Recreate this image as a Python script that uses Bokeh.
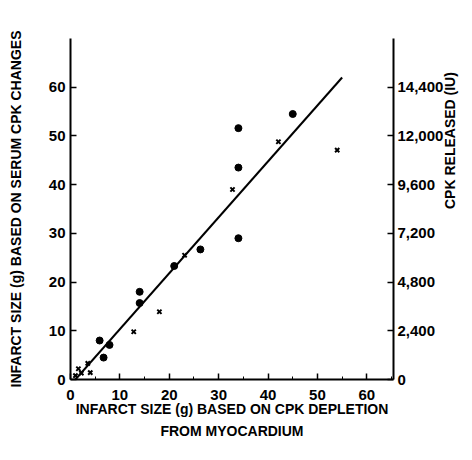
import math
from bokeh.plotting import figure
from bokeh.models import Range1d, LinearAxis, FixedTicker, NumeralTickFormatter
from bokeh.embed import file_html
from bokeh.resources import INLINE

# Infarct size (g) by CPK depletion (x) vs serum CPK changes (y)
dot_x = [45, 34, 34, 34, 26.3, 21, 14, 14, 5.9, 7.9, 6.7]
dot_y = [54.5, 51.6, 43.5, 29, 26.7, 23.3, 18, 15.7, 8, 7.1, 4.5]
cross_x = [54, 42.1, 32.8, 23.1, 18, 12.8, 3.5, 4, 1, 1.6, 2.2]
cross_y = [47.1, 48.8, 39, 25.5, 13.9, 9.8, 3.3, 1.4, 0.8, 2.2, 1.3]
fit_x = [1, 55]
fit_y = [0, 62]

x_ticks = [0, 10, 20, 30, 40, 50, 60]
x_minor = [5, 15, 25, 35, 45, 55, 65]
y_ticks = [0, 10, 20, 30, 40, 50, 60]
cpk_ticks = [0, 2400, 4800, 7200, 9600, 12000, 14400]

FONT = "Liberation Sans"

p = figure(width=470, height=452, x_range=Range1d(0, 65.4), y_range=Range1d(0, 70),
           output_backend="svg", toolbar_location=None,
           min_border_left=70, min_border_right=77, min_border_top=38, min_border_bottom=73)
p.outline_line_color = None
p.xgrid.grid_line_color = None
p.ygrid.grid_line_color = None
p.background_fill_color = "white"
p.border_fill_color = "white"

p.extra_y_ranges = {"cpk": Range1d(0, 16800)}

def style(ax):
    ax.axis_line_width = 2
    ax.axis_line_color = "black"
    ax.major_tick_in = 6
    ax.major_tick_out = 0
    ax.major_tick_line_width = 1.5
    ax.major_label_text_font = FONT
    ax.major_label_text_font_style = "bold"
    ax.major_label_text_font_size = "15px"
    ax.major_label_text_color = "black"
    ax.axis_label_text_font = FONT
    ax.axis_label_text_font_style = "bold"
    ax.axis_label_text_font_size = "14px"
    ax.axis_label_text_color = "black"

xa = p.xaxis[0]
xa.ticker = FixedTicker(ticks=x_ticks, minor_ticks=x_minor)
style(xa)
xa.minor_tick_in = 3
xa.minor_tick_out = 0
xa.major_label_standoff = 10
xa.axis_label = "INFARCT SIZE (g) BASED ON CPK DEPLETION\nFROM MYOCARDIUM"
xa.axis_label_text_line_height = 1.4
xa.axis_label_standoff = -2

ya = p.yaxis[0]
ya.ticker = FixedTicker(ticks=y_ticks)
style(ya)
ya.minor_tick_line_color = None
ya.major_label_standoff = 5
ya.axis_label = "INFARCT SIZE (g) BASED ON SERUM CPK CHANGES"
ya.axis_label_standoff = 22

ra = LinearAxis(y_range_name="cpk", ticker=FixedTicker(ticks=cpk_ticks),
                formatter=NumeralTickFormatter(format="0,0"))
style(ra)
ra.minor_tick_line_color = None
ra.major_label_standoff = 4
ra.axis_label = "CPK RELEASED (IU)"
ra.axis_label_standoff = 4
ra.axis_label_orientation = math.pi / 2
p.add_layout(ra, "right")

p.line(fit_x, fit_y, line_color="black", line_width=2)
p.scatter(dot_x, dot_y, marker="circle", size=7, fill_color="black", line_color="black")
p.scatter(cross_x, cross_y, marker="x", size=6, line_color="black", line_width=2)

open("out.html", "w").write(file_html(p, INLINE))
